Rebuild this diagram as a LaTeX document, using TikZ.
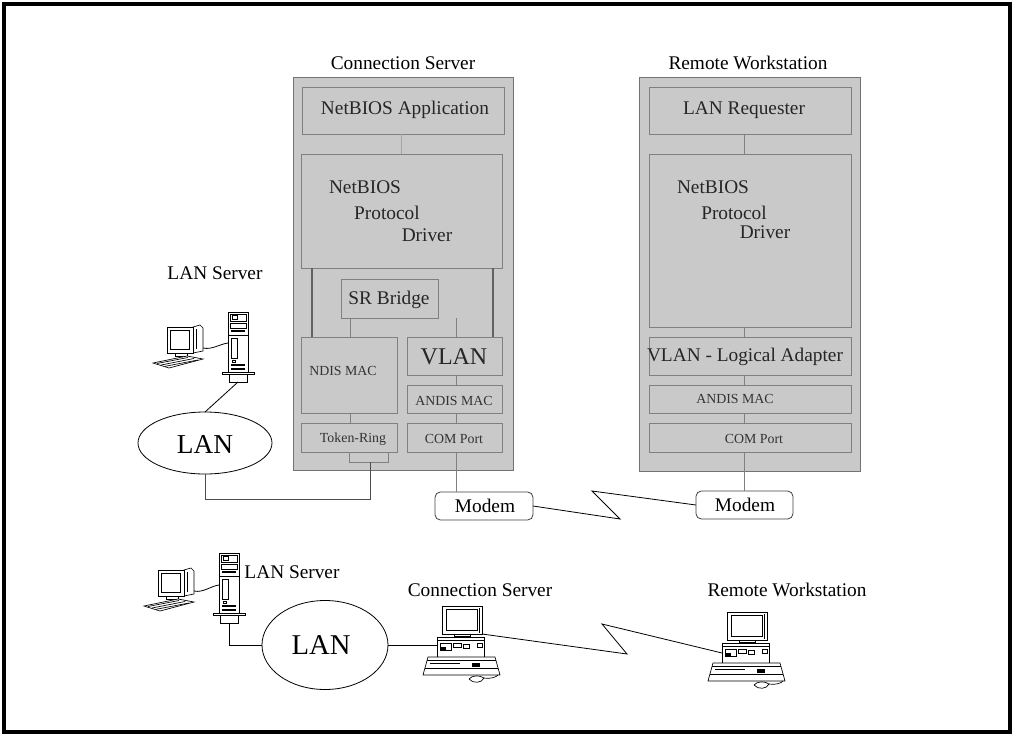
\documentclass[tikz,border=0pt]{standalone}
\usepackage{fontspec}
\setmainfont{Liberation Serif}
\usetikzlibrary{fit,shapes.geometric}

\tikzset{
  stackbox/.style={draw=black!55, fill=black!21, line width=0.6pt, inner sep=0pt, outer sep=0pt},
  layer/.style={draw=black!50, fill=black!21, line width=0.7pt, inner sep=0pt, outer sep=0pt},
  area/.style={inner sep=0pt, outer sep=0pt},
  wire/.style={draw=black!50, line width=0.6pt},
  trunk/.style={draw=black!62, line width=1.2pt},
  cable/.style={draw=black, line width=0.6pt},
  icon/.style={line width=0.5pt},
  modem/.style={draw=black!75, fill=white, rounded corners=4pt, line width=0.6pt, inner sep=0pt, outer sep=0pt},
  lanring/.style={ellipse, draw=black, line width=0.6pt, inner sep=0pt, outer sep=0pt},
  txt/.style={inner sep=0pt, font=\fontsize{14.5}{17}\selectfont},
  laytxt/.style={inner sep=0pt, text=black!85, font=\fontsize{14.5}{17}\selectfont},
  smalltxt/.style={inner sep=0pt, text=black!80, font=\fontsize{10.4}{12}\selectfont},
  vlantxt/.style={inner sep=0pt, text=black!85, font=\fontsize{18}{20}\selectfont},
  bigtxt/.style={inner sep=0pt, font=\fontsize{20.5}{24}\selectfont},
}

% tower server, origin at top-left corner of the cabinet
\newcommand\towerpc[1]{%
  \begin{scope}[shift={#1}, icon]
    \draw[fill=white] (0,0) rectangle (20,60);
    \draw (2,2) rectangle (18,9);
    \draw (4,3.5) rectangle (9,7);
    \draw (2,11) rectangle (18,16);
    \fill (3,17.5) rectangle (17,20);
    \draw (0,23) -- (20,23);
    \draw (3,26) rectangle (9,46);
    \draw (4,48) rectangle (7,50.5);
    \fill (3,52) rectangle (17,54);
    \fill (3,55.5) rectangle (17,57.5);
    \draw[fill=white] (-6,60) rectangle (26,62.5);
    \draw[fill=white] (1,62.5) rectangle (19,70);
  \end{scope}}

% small workstation (monitor and keyboard), origin at top-left of the screen housing
\newcommand\clientpc[1]{%
  \begin{scope}[shift={#1}, icon]
    \draw[fill=white] (26,2) -- (33,0) -- (36,3) -- (36,26) -- (26,28) -- cycle;
    \draw (29,4) -- (29,24);
    \draw[fill=white] (0,2) rectangle (26,28);
    \draw (3,5) rectangle (22,24);
    \draw (8,28) rectangle (20,31);
    \draw[fill=white] (-14,38) -- (20,31) -- (36,34) -- (2,43) -- cycle;
    \draw (-10,38.5) -- (21,32.5);
    \draw (-6,40) -- (27,33.5);
    \draw (-2,41.3) -- (31,35);
  \end{scope}}

% desktop computer with monitor, system unit, keyboard and mouse,
% origin at top-left of the monitor
\newcommand\deskpc[1]{%
  \begin{scope}[shift={#1}, icon]
    \draw[fill=white] (0,0) rectangle (40,28);
    \draw (4,3) rectangle (35,24.5);
    \draw[line width=1.2pt] (37.5,2) -- (37.5,27);
    \draw (12,28) rectangle (28,30.5);
    \draw[fill=white] (-5,31) rectangle (42,51);
    \draw (-5,34) -- (42,34);
    \draw (-2,37) rectangle (9,44);
    \fill (-2,40.5) rectangle (4,44);
    \draw (11,37) rectangle (19,41.5);
    \draw (21,38.5) rectangle (27,42.5);
    \draw (35,37) rectangle (40,41);
    \draw[fill=white] (-14,51) -- (53,51) -- (58,69) -- (-19,69) -- cycle;
    \draw (-15,54.5) -- (54,54.5);
    \draw (-17,62) -- (56,62);
    \draw (-12,57) -- (18,57);
    \fill (30,57) rectangle (38,60.5);
    \draw[fill=white] (27,73) .. controls (30,69) and (38,69) .. (42,72)
                      .. controls (40,77) and (31,78) .. (27,73);
    \draw (42,72) .. controls (50,73) and (54,71) .. (56,69);
  \end{scope}}

\begin{document}
\begin{tikzpicture}[x=0.75pt, y=-0.75pt]
\useasboundingbox (0,0) rectangle (1014,736);

% outer frame
\draw[line width=2.3pt] (4,4) rectangle (1010,732);

% ---------------- Connection Server stack ----------------
\node[txt] (cstitle) at (403,63) {Connection Server};
\node[stackbox, fit={(293,77) (513,470)}] (cs) {};
\node[layer, fit={(302,87) (504,134)}] (app) {};
\node[laytxt] (apptxt) at (405,110) {NetBIOS Application};
\node[layer, fit={(301,154) (502,268)}] (pd) {};
\node[laytxt] (pd1) at (365,187) {NetBIOS};
\node[laytxt] (pd2) at (387,213) {Protocol};
\node[laytxt] (pd3) at (427,235) {Driver};
\node[layer, fit={(341,279) (438,318)}] (srb) {};
\node[laytxt] (srbtxt) at (389,300) {SR Bridge};
\node[layer, fit={(301,337) (397,413)}] (ndis) {};
\node[smalltxt] (ndistxt) at (343,371) {NDIS MAC};
\node[layer, fit={(407,337) (502,375)}] (vlan) {};
\node[vlantxt] (vlantxt) at (454,357) {VLAN};
\node[layer, fit={(407,385) (502,413)}] (andis) {};
\node[smalltxt] (andistxt) at (454,401) {ANDIS MAC};
\node[layer, fit={(301,423) (397,452)}] (tr) {};
\node[smalltxt] (trtxt) at (353,439) {Token-Ring};
\node[layer, fit={(407,423) (502,452)}] (com) {};
\node[smalltxt] (comtxt) at (454,439) {COM Port};

% ---------------- Remote Workstation stack ----------------
\node[txt] (rwtitle) at (748,63) {Remote Workstation};
\node[stackbox, fit={(639,77) (860,471)}] (rw) {};
\node[layer, fit={(649,87) (851,134)}] (req) {};
\node[laytxt] (reqtxt) at (744,110) {LAN Requester};
\node[layer, fit={(649,154) (851,327)}] (rpd) {};
\node[laytxt] (rpd1) at (713,187) {NetBIOS};
\node[laytxt] (rpd2) at (734,213) {Protocol};
\node[laytxt] (rpd3) at (765,232) {Driver};
\node[layer, fit={(649,337) (851,375)}] (rvlan) {};
\node[laytxt] (rvlantxt) at (745,357) {VLAN - Logical Adapter};
\node[layer, fit={(649,385) (851,413)}] (randis) {};
\node[smalltxt] (randistxt) at (735,399) {ANDIS MAC};
\node[layer, fit={(649,423) (851,452)}] (rcom) {};
\node[smalltxt] (rcomtxt) at (754,439) {COM Port};

% modems
\node[modem, fit={(435,492) (533,520)}] (m1) {};
\node[txt] (m1txt) at (485,506) {Modem};
\node[modem, fit={(696,491) (793,519)}] (m2) {};
\node[txt] (m2txt) at (745,505) {Modem};

% column positions of the links inside the stacks
\coordinate (c312) at (312,0);
\coordinate (c350) at (350,0);
\coordinate (c401) at (401,0);
\coordinate (c456) at (456,0);
\coordinate (c493) at (493,0);
\coordinate (c744) at (744,0);

% links inside the Connection Server
\draw[wire, draw=black!35] (app.south -| c401) -- (pd.north -| c401);
\draw[trunk] (pd.south -| c312) -- (ndis.north -| c312);
\draw[trunk] (pd.south -| c493) -- (vlan.north -| c493);
\draw[wire] (srb.south -| c350) -- (ndis.north -| c350);
\draw[wire] (srb.south -| c456) -- (vlan.north -| c456);
\draw[wire] (ndis.south -| c350) -- (tr.north -| c350);
\draw[wire] (vlan.south -| c456) -- (andis.north -| c456);
\draw[wire] (andis.south -| c456) -- (com.north -| c456);
\draw[wire] (com.south -| c456) -- (m1.north -| c456);

% Token-Ring adapter connector
\coordinate (trl) at (349,462);
\coordinate (trr) at (388,462);
\coordinate (bus) at (370,462);
\coordinate (busrow) at (0,499);
\draw[wire] (tr.south -| trl) -- (trl) -- (trr) -- (tr.south -| trr);

% links inside the Remote Workstation
\draw[wire] (req.south -| c744) -- (rpd.north -| c744);
\draw[wire] (rpd.south -| c744) -- (rvlan.north -| c744);
\draw[wire] (rvlan.south -| c744) -- (randis.north -| c744);
\draw[wire] (randis.south -| c744) -- (rcom.north -| c744);
\draw[wire] (rcom.south -| c744) -- (m2.north -| c744);

% dial-up link between the modems
\coordinate (z1) at (620,519);
\coordinate (z2) at (592,491);
\draw[cable] (m1.east) -- (z1) -- (z2) -- (m2.west);

% ---------------- LAN with its server (upper part) ----------------
\node[txt] (ls1txt) at (215,273) {LAN Server};
\clientpc{(167,325)}
\towerpc{(228,312)}
\node[area, fit={(153,325) (203,368)}] (cl1) {};
\node[area, fit={(228,312) (248,382)}] (tw1) {};
\draw[cable] (203,348) .. controls (212,350) and (220,344) .. (tw1.west |- 0,343);
\node[lanring, minimum width=100.5pt, minimum height=46.5pt] (lan1) at (205,443) {};
\node[bigtxt] (lan1txt) at (205,444) {LAN};
\draw[cable] (tw1.south) -- (lan1.north);
\draw[wire, draw=black!70] (lan1.south) -- (lan1.south |- busrow) -- (bus |- busrow) -- (bus);

% ---------------- overview (lower part) ----------------
\node[txt] (ls2txt) at (292,572) {LAN Server};
\clientpc{(158,568)}
\towerpc{(219,553)}
\node[area, fit={(144,568) (194,611)}] (cl2) {};
\node[area, fit={(219,553) (239,623)}] (tw2) {};
\draw[cable] (194,591) .. controls (203,593) and (211,586) .. (tw2.west |- 0,585);

\node[lanring, minimum width=94.5pt, minimum height=66.75pt] (lan2) at (325,645) {};
\node[bigtxt, font=\fontsize{21.5}{25}\selectfont] (lan2txt) at (321,645) {LAN};
\draw[cable] (tw2.south) -- (tw2.south |- lan2.west) -- (lan2.west);

\node[txt] (cs2txt) at (480,590) {Connection Server};
\deskpc{(442,606)}
\node[area, fit={(442,606) (482,634)}] (csmon) {};
\node[area, fit={(437,637) (484,657)}] (csunit) {};
\draw[cable] (lan2.east) -- (csunit.west |- lan2.east);

\node[txt] (rw2txt) at (787,590) {Remote Workstation};
\deskpc{(727,612)}
\node[area, fit={(727,612) (767,640)}] (rwmon) {};
\node[area, fit={(722,643) (769,663)}] (rwunit) {};

\coordinate (y1) at (627,654);
\coordinate (y2) at (602,624);
\draw[cable] (csmon.south east) -- (y1) -- (y2) -- (rwunit.west);

\end{tikzpicture}
\end{document}
